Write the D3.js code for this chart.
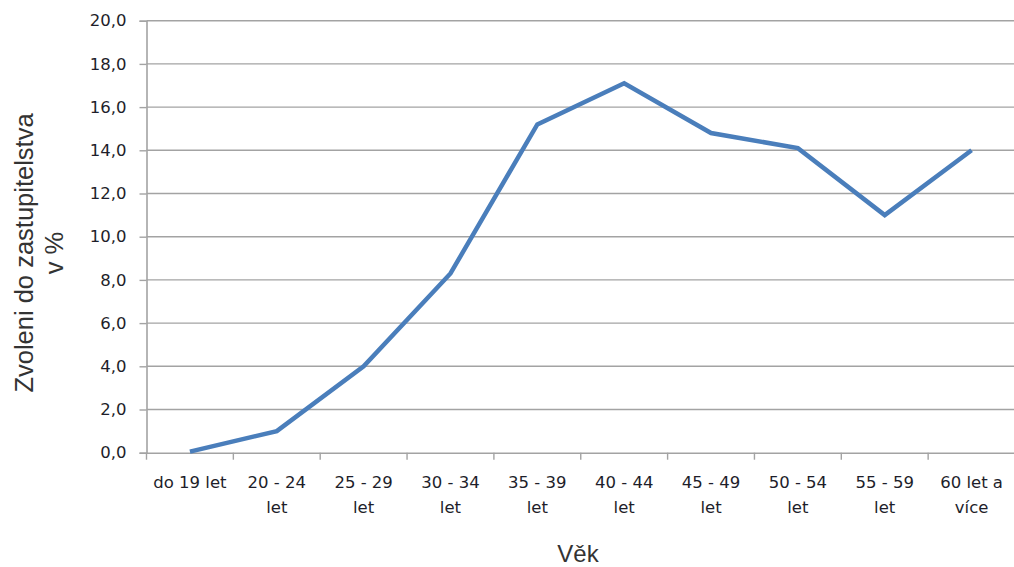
<!DOCTYPE html>
<html><head><meta charset="utf-8">
<script src="https://cdn.jsdelivr.net/npm/d3@7"></script>
<style>
html,body{margin:0;padding:0;background:#fff;}
svg{display:block;}
</style></head>
<body>
<svg id="chart" width="1014" height="567"></svg>
<script>
const categories = ["do 19 let","20 - 24 let","25 - 29 let","30 - 34 let","35 - 39 let","40 - 44 let","45 - 49 let","50 - 54 let","55 - 59 let","60 let a více"];
const categoryLines = [["do 19 let"],["20 - 24","let"],["25 - 29","let"],["30 - 34","let"],["35 - 39","let"],["40 - 44","let"],["45 - 49","let"],["50 - 54","let"],["55 - 59","let"],["60 let a","více"]];
const values = [0.05, 1.0, 4.0, 8.3, 15.2, 17.1, 14.8, 14.1, 11.0, 14.0];
const yTicks = [0,2,4,6,8,10,12,14,16,18,20];
const yTitleLines = ["Zvoleni do zastupitelstva","v %"];
const xTitle = "Věk";

const svg = d3.select("#chart");
const m = {left:146.5, right:1015, top:20.7, bottom:452.7};
const x = d3.scaleBand().domain(categories).range([m.left, m.right]).paddingInner(0).paddingOuter(0);
const y = d3.scaleLinear().domain([0,20]).range([m.bottom, m.top]);
const gridCol = "#a3a3a3";
const fmt = v => d3.format(".1f")(v).replace(".", ",");

// gridlines
svg.append("g").selectAll("line").data(yTicks.filter(d=>d>0)).join("line")
  .attr("x1", m.left).attr("x2", m.right)
  .attr("y1", d=>y(d)).attr("y2", d=>y(d))
  .attr("stroke", gridCol).attr("stroke-width", 1.4);

// y axis
const yAxis = svg.append("g").attr("transform", `translate(${m.left},0)`)
  .call(d3.axisLeft(y).tickValues(yTicks).tickFormat(fmt).tickSize(7).tickPadding(13));
yAxis.select(".domain").attr("stroke", gridCol).attr("stroke-width", 1.6);
yAxis.selectAll(".tick line").attr("stroke", gridCol).attr("stroke-width", 1.4);
yAxis.selectAll("text").attr("font-family","DejaVu Sans").attr("font-size", 16.5).attr("fill","#1e1e2a");

// x axis
const xAxis = svg.append("g").attr("transform", `translate(0,${m.bottom})`)
  .call(d3.axisBottom(x).tickSize(0).tickFormat(""));
xAxis.select(".domain").attr("stroke", gridCol).attr("stroke-width", 1.6);
const bounds = categories.map(c => x(c)).concat([m.right]);
xAxis.append("g").selectAll("line").data(bounds).join("line")
  .attr("x1", d=>d).attr("x2", d=>d).attr("y1", 0).attr("y2", 7)
  .attr("stroke", gridCol).attr("stroke-width", 1.4);
xAxis.append("g").selectAll("text").data(categories).join("text")
  .attr("text-anchor","middle")
  .attr("font-family","DejaVu Sans").attr("font-size", 16.5).attr("fill","#1e1e2a")
  .each(function(d,i){
    const t = d3.select(this);
    categoryLines[i].forEach((ln,j)=>{
      t.append("tspan").attr("x", x(d)+x.bandwidth()/2).attr("y", 35 + j*25.5).text(ln);
    });
  });

// line
const line = d3.line().x((d,i)=>x(categories[i])+x.bandwidth()/2).y(d=>y(d));
svg.append("path").datum(values).attr("d", line)
  .attr("fill","none").attr("stroke","#4a7ebb").attr("stroke-width",4.5)
  .attr("stroke-linejoin","miter").attr("stroke-linecap","butt");

// axis titles
const yt = svg.append("text").attr("transform","translate(0,253) rotate(-90)")
  .attr("text-anchor","middle").attr("font-family","Liberation Sans, Arial")
  .attr("font-size",25.5).attr("fill","#333");
yTitleLines.forEach((ln,j)=>{
  yt.append("tspan").attr("x",0).attr("y", 33 + j*29.5).text(ln);
});
svg.append("text").attr("x", 578).attr("y", 562).attr("text-anchor","middle")
  .attr("font-family","Liberation Sans, Arial").attr("font-size",24).attr("fill","#333").text(xTitle);
</script>
</body></html>
